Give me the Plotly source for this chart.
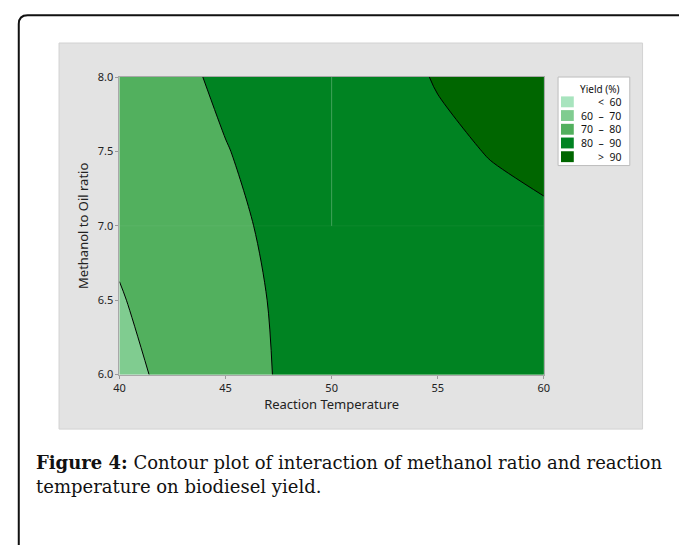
import plotly.graph_objects as go

# ---------------- data ----------------
temperature = [40, 42.5, 45, 47.5, 50, 52.5, 55, 57.5, 60]
methanol_ratio = [6.0, 6.5, 7.0, 7.5, 8.0]
# yield (%) at each (ratio row, temperature column)
yield_pct = [
    [67.6, 71.9, 76.2, 80.5, 83.2, 85.0, 86.2, 87.0, 87.5],   # ratio 6.0
    [69.5, 73.3, 77.1, 80.8, 84.0, 85.8, 87.0, 87.8, 88.3],   # ratio 6.5
    [71.5, 74.9, 78.2, 81.6, 84.6, 86.4, 87.8, 88.6, 89.0],   # ratio 7.0
    [73.0, 76.4, 79.7, 82.7, 85.5, 87.5, 89.0, 90.2, 91.5],   # ratio 7.5
    [74.5, 78.0, 81.5, 84.3, 86.5, 88.4, 90.3, 91.8, 93.0],   # ratio 8.0
]
levels = [60, 70, 80, 90]
legend_labels = ["<  60", "60  \u2013  70", "70  \u2013  80", "80  \u2013  90", ">  90"]
band_colors = ["#A8E4BE", "#80CC90", "#52B05E", "#008322", "#006600"]
x_ticks = [40, 45, 50, 55, 60]
y_ticks = [6.0, 6.5, 7.0, 7.5, 8.0]
caption_lines = ["<b>Figure 4:</b> Contour plot of interaction of methanol ratio and reaction",
                 "temperature on biodiesel yield."]

W, H = 679, 545
def px(x):
    return x / W
def py(y):
    return 1 - y / H

FONT = "Noto Sans"

n = len(band_colors)
colorscale = [[i / (n - 1), c] for i, c in enumerate(band_colors)]

fig = go.Figure()
fig.add_trace(go.Contour(
    x=temperature, y=methanol_ratio, z=yield_pct,
    contours=dict(start=levels[0], end=levels[-1], size=levels[1] - levels[0],
                  coloring="fill", showlines=True),
    colorscale=colorscale, showscale=False,
    line=dict(color="black", width=1, smoothing=0.9),
    hoverinfo="skip",
))

shapes = []
# grey chart panel
shapes.append(dict(type="rect", xref="paper", yref="paper", layer="below",
                   x0=px(54), x1=px(648), y0=py(433), y1=py(36),
                   fillcolor="#E3E3E3", line=dict(color="#D2D2D2", width=1)))
# outer rounded frame (top-left corner visible)
r = 9
path = (f"M {px(13)},{py(560)} L {px(13)},{py(7.5 + r)} "
        f"Q {px(13)},{py(7.5)} {px(13 + r)},{py(7.5)} L {px(700)},{py(7.5)}")
shapes.append(dict(type="path", xref="paper", yref="paper", path=path,
                   line=dict(color="#111111", width=2)))
# faint rendering seams seen inside the plot
shapes.append(dict(type="line", xref="x", yref="y", x0=50, x1=50, y0=7.0, y1=8.0,
                   line=dict(color="rgba(255,255,255,0.25)", width=1)))
shapes.append(dict(type="line", xref="x", yref="y", x0=40, x1=60, y0=7.0, y1=7.0,
                   line=dict(color="rgba(255,255,255,0.05)", width=1)))

# legend box
shapes.append(dict(type="rect", xref="paper", yref="paper",
                   x0=px(562), x1=px(635), y0=py(162), y1=py(71),
                   fillcolor="white", line=dict(color="#BDBDBD", width=1)))
annotations = []
annotations.append(dict(xref="paper", yref="paper", x=px(627), y=py(83.5),
                        xanchor="right", yanchor="middle", showarrow=False,
                        text="Yield (%)", font=dict(family=FONT, size=10, color="#111")))
for i, (lab, col) in enumerate(zip(legend_labels, band_colors)):
    yc = 96.5 + i * 14.1
    shapes.append(dict(type="rect", xref="paper", yref="paper",
                       x0=px(565), x1=px(578), y0=py(yc + 5.6), y1=py(yc - 5.6),
                       fillcolor=col, line=dict(width=0)))
    annotations.append(dict(xref="paper", yref="paper", x=px(628), y=py(yc),
                            xanchor="right", yanchor="middle", showarrow=False,
                            text=lab.replace("  ", "\u00a0\u00a0"),
                            font=dict(family=FONT, size=10.5, color="#111")))

# caption (two lines, 25 px apart)
for i, line in enumerate(caption_lines):
    annotations.append(dict(xref="paper", yref="paper", x=px(28), y=py(467 + 25 * i),
                            xanchor="left", yanchor="middle", align="left", showarrow=False,
                            text=line,
                            font=dict(family="DejaVu Serif", size=18, color="#111")))

fig.update_layout(
    width=W, height=H,
    margin=dict(l=0, r=0, t=0, b=0),
    paper_bgcolor="white", plot_bgcolor="rgba(0,0,0,0)",
    showlegend=False,
    shapes=shapes, annotations=annotations,
    font=dict(family=FONT, color="#222"),
    xaxis=dict(domain=[px(115.5), px(547.5)], range=[40, 60],
               tickvals=x_ticks, ticks="outside", ticklen=3, tickcolor="#9A9A9A",
               showline=True, linecolor="#A8A8A8", linewidth=1, mirror=True,
               showgrid=False, zeroline=False,
               tickfont=dict(size=11, color="#222"),
               title=dict(text="Reaction Temperature", font=dict(size=13, color="#222"), standoff=4)),
    yaxis=dict(domain=[py(377), py(71)], range=[6, 8],
               tickvals=y_ticks, tickformat=".1f", ticks="outside", ticklen=3, tickcolor="#9A9A9A",
               showline=True, linecolor="#A8A8A8", linewidth=1, mirror=True,
               showgrid=False, zeroline=False,
               tickfont=dict(size=11, color="#222"),
               title=dict(text="Methanol to Oil ratio", font=dict(size=13, color="#222"), standoff=6)),
)

fig.write_html("out.html", config={"displayModeBar": False},
               post_script="document.body.style.margin='0';document.body.style.overflow='hidden';")
